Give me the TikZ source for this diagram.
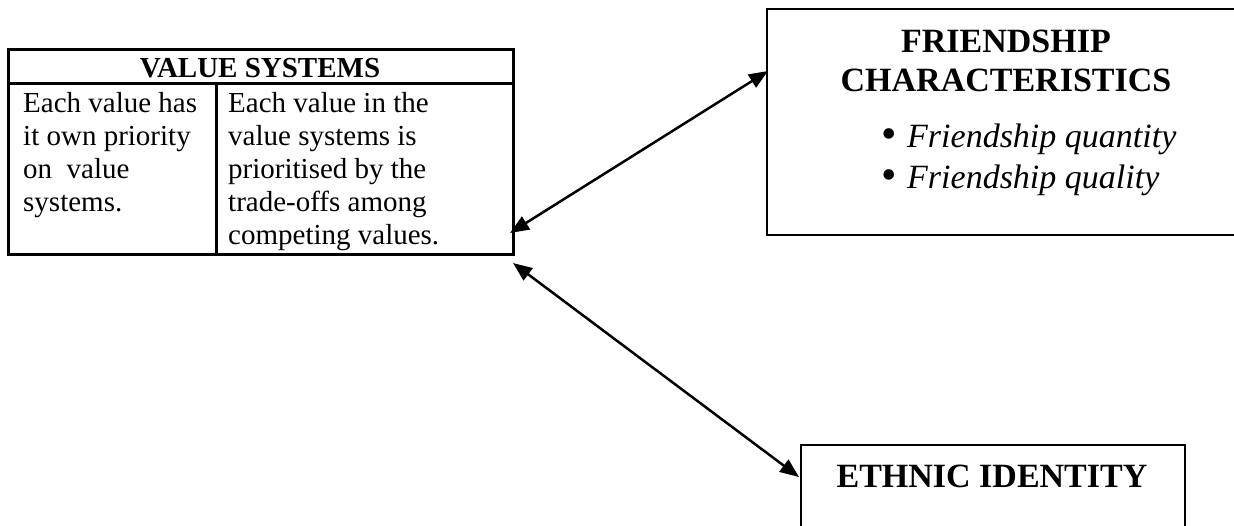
\documentclass[tikz,border=0pt]{standalone}
\usepackage{fontspec}
\setmainfont{Liberation Serif}
\usetikzlibrary{arrows.meta}
\begin{document}
\begin{tikzpicture}[x=1pt,y=-1pt,
  tabline/.style={draw=black,line width=2.6pt,inner sep=0pt},
  boxline/.style={draw=black,line width=2.2pt,inner sep=0pt},
  celltext/.style={inner sep=0pt,align=left,font=\fontsize{29}{33}\selectfont},
  headtext/.style={inner sep=0pt,font=\fontsize{29}{33}\selectfont\bfseries},
  bigbold/.style={inner sep=0pt,font=\fontsize{34}{39}\selectfont\bfseries},
  bullettext/.style={inner sep=0pt,font=\fontsize{34}{41}\selectfont\itshape},
  bulletdot/.style={inner sep=0pt,font=\fontsize{44}{44}\selectfont},
  link/.style={line width=2.5pt,{Triangle[length=19pt,width=15pt]}-{Triangle[length=19pt,width=15pt]}}]
\path[use as bounding box,clip] (0,0) rectangle (1234,525);
\fill[white] (0,0) rectangle (1234,525);
% value systems table
\node[tabline,anchor=north west,minimum width=505pt,minimum height=34pt] (vsh) at (7,48) {};
\node[tabline,anchor=north west,minimum width=208pt,minimum height=171pt] (vsl) at (7,82) {};
\node[tabline,anchor=north west,minimum width=297pt,minimum height=171pt] (vsr) at (215,82) {};
\node[headtext,anchor=base] (vsht) at (260,77) {VALUE SYSTEMS};
\node[celltext,anchor=north west] (vslt) at (23,92) {Each value has\\it own priority\\on\ \ value\\systems.};
\node[celltext,anchor=north west] (vsrt) at (228,92) {Each value in the\\value systems is\\prioritised by the\\trade-offs among\\competing values.};
% friendship characteristics
\node[boxline,anchor=north west,minimum width=480pt,minimum height=226pt] (fc) at (766,8) {};
\node[bigbold,anchor=base] (fct1) at (1006,52) {FRIENDSHIP};
\node[bigbold,anchor=base] (fct2) at (1006,91) {CHARACTERISTICS};
\node[bulletdot,anchor=base west] (fcd1) at (881,148) {\textbullet};
\node[bullettext,anchor=base west] (fcb1) at (907,147) {Friendship quantity};
\node[bulletdot,anchor=base west] (fcd2) at (881,189) {\textbullet};
\node[bullettext,anchor=base west] (fcb2) at (907,188) {Friendship quality};
% ethnic identity
\node[boxline,anchor=north west,minimum width=384pt,minimum height=130pt] (ei) at (800,444) {};
\node[bigbold,anchor=base] (eit) at (992,487) {ETHNIC IDENTITY};
% connectors
\coordinate (vsa) at (510,233);
\coordinate (fca) at (768,71);
\coordinate (vsb) at (513,263);
\coordinate (eia) at (799,477);
\draw[link] (vsa) -- (fca);
\draw[link] (vsb) -- (eia);
\end{tikzpicture}
\end{document}
